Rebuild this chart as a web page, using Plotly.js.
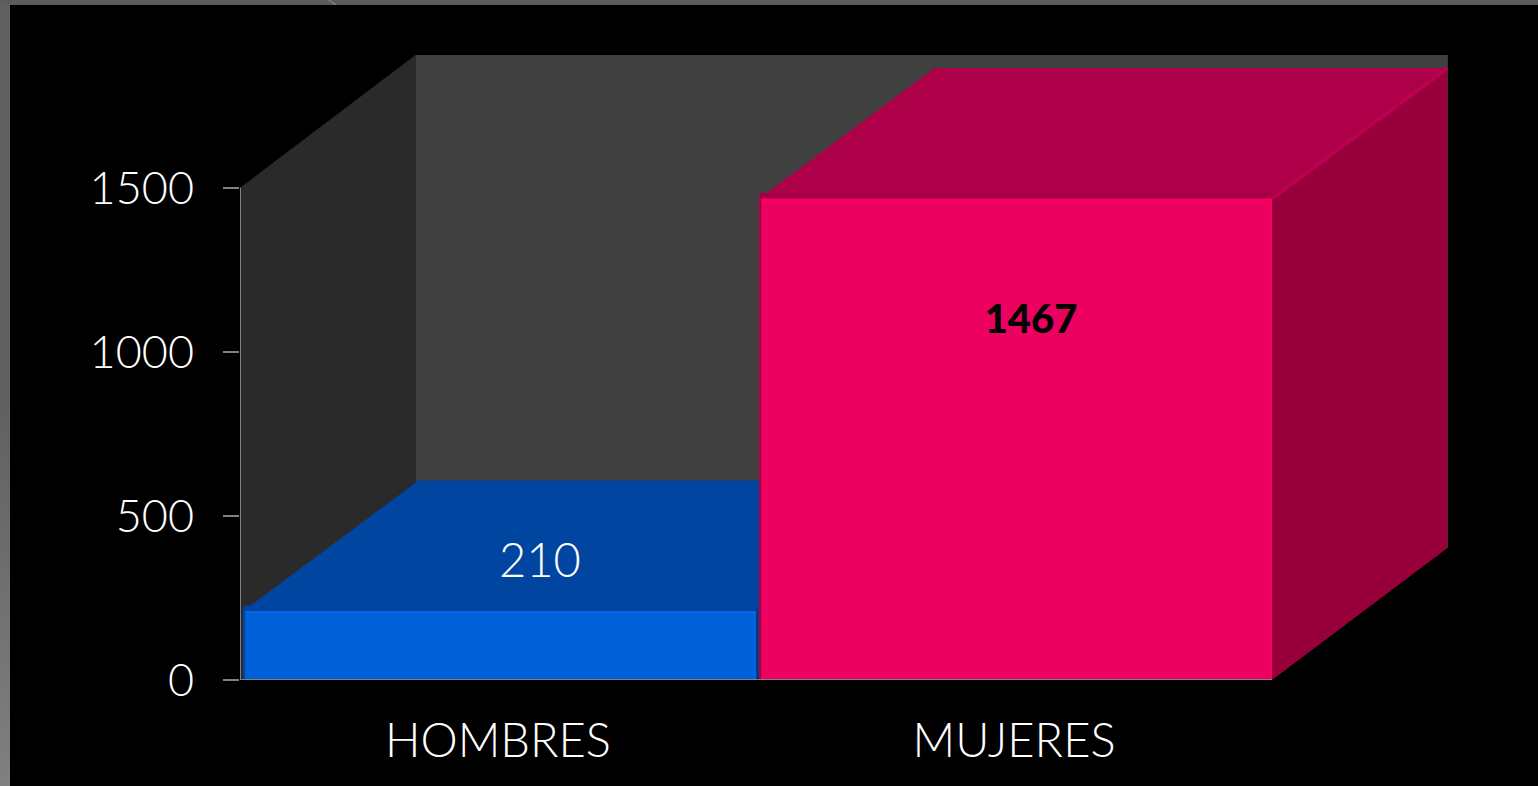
<!DOCTYPE html>
<html><head><meta charset="utf-8">
<script src="https://cdn.plot.ly/plotly-3.0.1.min.js"></script>
<style>
html,body{margin:0;padding:0;width:1538px;height:786px;overflow:hidden;background:linear-gradient(180deg,#606060 0,#606060 400px,#808080 786px);}
#topstrip{position:absolute;left:0;top:0;width:1538px;height:5px;background:#5c5c5c;}
#nick{position:absolute;left:328px;top:2px;width:9px;height:1px;background:#8f8f8f;transform:rotate(35deg);}
#chart{position:absolute;left:10px;top:5px;width:1528px;height:781px;}
</style></head><body><div id="topstrip"></div><div id="nick"></div><div id="chart"></div>
<script>
var categories = ["HOMBRES", "MUJERES"];
var values = [210, 1467];
var valueLabels = ["210", "1467"];
var frontColors = ["#0060d8", "#ec0060"];
var topColors = ["#0045a0", "#ae0048"];
var sideColors = ["#003a88", "#98003c"];
var edgeLight = ["#0066e4", "#fa0066"];
var edgeDark = ["#0042a0", "#a60045"];
var topEdge = ["#003d90", "#ba004e"];
var yTicks = [0, 500, 1000, 1500];

var DX = 0.34, DY = 402, TOP_DY = 398, L = -0.494, R = 0.5;
var yMaxAxis = 1905, xEnd = 1.5 + 0.341;
function poly(xs, ys, color, name) {
  return {type:"scatter", mode:"lines", x:xs, y:ys, fill:"toself", fillcolor:color,
          line:{width:0, color:color}, hoverinfo:"skip", showlegend:false, name:name};
}
function edge(xs, ys, color, w, over) {
  var t = {type:"scatter", mode:"lines", x:xs, y:ys, line:{width:w, color:color},
           hoverinfo:"skip", showlegend:false};
  if (over) { t.xaxis = "x2"; t.yaxis = "y2"; }
  return t;
}
var traces = [];
traces.push(poly([-0.5,-0.5+DX,-0.5+DX,-0.5,-0.5],[0,DY,yMaxAxis,1500,0],"#2a2a2a","side wall"));
traces.push(poly([-0.5+DX,xEnd,xEnd,-0.5+DX,-0.5+DX],[DY,DY,yMaxAxis,yMaxAxis,DY],"#404040","back wall"));
traces.push(edge([xEnd,xEnd],[DY,yMaxAxis],"#363636",2));
categories.forEach(function(c,i){
  var v = values[i], l = i+L, r = i+R;
  traces.push(poly([l,r,r+DX,l+DX,l],[v,v,v+TOP_DY,v+TOP_DY,v],topColors[i],c+" top"));
  traces.push(poly([r,r+DX,r+DX,r,r],[0,DY,v+TOP_DY,v,0],sideColors[i],c+" side"));
  traces.push(edge([l,r],[v+8,v+8],edgeDark[i],6));
  traces.push(edge([r,r+DX],[v,v+TOP_DY],topEdge[i],4));
});
traces.push({type:"bar", x:[0+(L+R)/2,1+(L+R)/2], y:values, width:R-L,
  xaxis:"x2", yaxis:"y2",
  marker:{color:frontColors, line:{width:0}}, hoverinfo:"x+y", showlegend:false});
categories.forEach(function(c,i){
  var v = values[i], l = i+L, r = i+R;
  traces.push(edge([l,r],[v-4,v-4],edgeLight[i],3,true));
  traces.push(edge([l+0.002,l+0.002],[0,v],edgeDark[i],2,true));
  traces.push(edge([r-0.002,r-0.002],[0,v],edgeLight[i],2,true));
});
traces.push({type:"scatter", mode:"text", xaxis:"x2", yaxis:"y2", x:[0.081,1.033], y:[351,1088], text:valueLabels,
  textposition:"middle center", cliponaxis:false, hoverinfo:"skip", showlegend:false,
  textfont:{family:"Lato, 'Open Sans', sans-serif", size:[47,40], color:["#ffffff","#000000"], weight:[300,900]}});

var font = "Lato, 'Open Sans', sans-serif";
var layout = {
  width:1528, height:781, autosize:false,
  paper_bgcolor:"#000000", plot_bgcolor:"rgba(0,0,0,0)",
  margin:{l:230, r:90, t:50, b:106, pad:0},
  bargap:0, showlegend:false,
  xaxis:{range:[-0.5,xEnd], tickmode:"array", tickvals:[0,1], ticktext:categories,
    showgrid:false, zeroline:false, showline:false, ticks:"", fixedrange:true,
    ticklabelstandoff:29, tickfont:{family:font, size:47, color:"#ffffff", weight:300}},
  yaxis:{range:[0,yMaxAxis], tickmode:"array", tickvals:yTicks, ticktext:yTicks.map(String),
    showgrid:false, zeroline:false, showline:false, ticks:"outside", ticklen:16, tickwidth:2, tickcolor:"#808080",
    fixedrange:true, ticklabelstandoff:20, tickfont:{family:font, size:45, color:"#ffffff", weight:300}},
  xaxis2:{overlaying:"x", matches:"x", visible:false, fixedrange:true},
  yaxis2:{overlaying:"y", matches:"y", visible:false, fixedrange:true},
  shapes:[
    {type:"line", xref:"x", yref:"y", x0:-0.5, x1:-0.5, y0:0, y1:1500, line:{color:"#808080", width:2}},
    {type:"line", xref:"x", yref:"y", x0:-0.5, x1:1.5, y0:0, y1:0, line:{color:"#808080", width:2}}
  ]
};
Plotly.newPlot("chart", traces, layout, {displayModeBar:false, staticPlot:true});
</script></body></html>
